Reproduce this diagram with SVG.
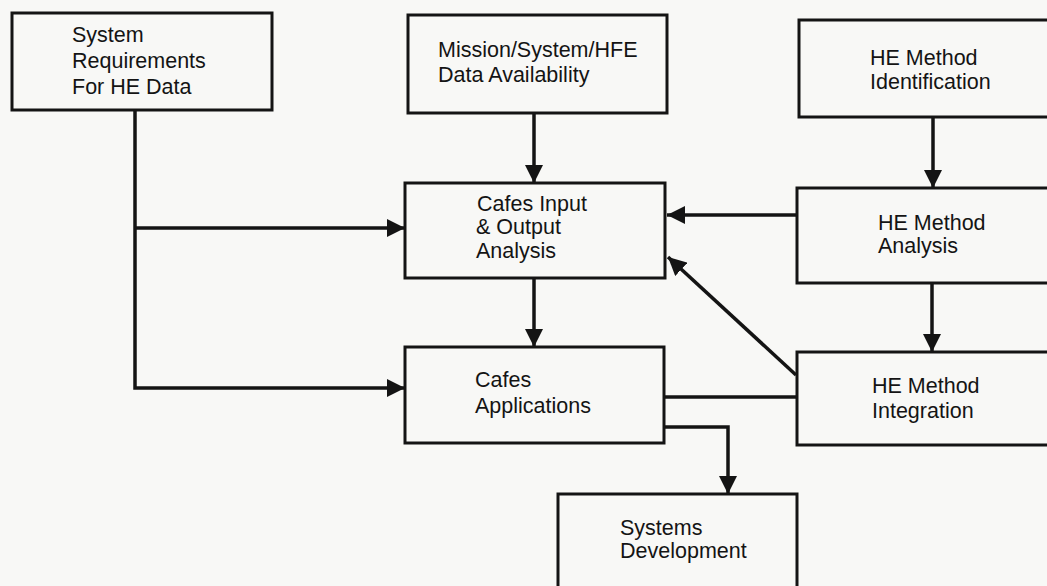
<svg xmlns="http://www.w3.org/2000/svg" width="1047" height="586" viewBox="0 0 1047 586">
  <style>
    .box { fill: #f8f8f6; stroke: #141414; stroke-width: 3; }
    .lbl { font-family: "Liberation Sans", Arial, sans-serif; font-size: 21.5px; fill: #141414; }
    .wire { fill: none; stroke: #141414; stroke-width: 3.5; }
  </style>
  <defs>
    <marker id="arrow" viewBox="0 0 10 10" refX="10" refY="5" markerWidth="5.2" markerHeight="5.2" markerUnits="strokeWidth" orient="auto">
      <path d="M0,0 L10,5 L0,10 Z" fill="#141414"/>
    </marker>
  </defs>
  <rect width="1047" height="586" fill="#f8f8f6"/>

  <g id="connectors">
    <!-- requirements feed both Cafes blocks -->
    <path class="wire" d="M135,110 V388 H405" marker-end="url(#arrow)"/>
    <path class="wire" d="M135,228 H405" marker-end="url(#arrow)"/>
    <!-- data availability into input/output analysis -->
    <path class="wire" d="M534,113 V183" marker-end="url(#arrow)"/>
    <!-- analysis into applications -->
    <path class="wire" d="M534,278 V347" marker-end="url(#arrow)"/>
    <!-- method chain on the right -->
    <path class="wire" d="M933,117 V188" marker-end="url(#arrow)"/>
    <path class="wire" d="M932,283 V352" marker-end="url(#arrow)"/>
    <path class="wire" d="M797,215 H667" marker-end="url(#arrow)"/>
    <path class="wire" d="M796,375 L668,257" marker-end="url(#arrow)"/>
    <!-- applications linked to integration -->
    <path class="wire" d="M664,397 H797"/>
    <!-- applications out to systems development -->
    <path class="wire" d="M664,427 H728 V494" marker-end="url(#arrow)"/>
  </g>

  <g id="sys-req">
    <rect class="box" x="12" y="13" width="260" height="97"/>
    <text class="lbl" x="72" y="42">System</text>
    <text class="lbl" x="72" y="68">Requirements</text>
    <text class="lbl" x="72" y="94">For HE Data</text>
  </g>

  <g id="data-avail">
    <rect class="box" x="408" y="15" width="259" height="98"/>
    <text class="lbl" x="438" y="57">Mission/System/HFE</text>
    <text class="lbl" x="438" y="82">Data Availability</text>
  </g>

  <g id="he-ident">
    <rect class="box" x="799" y="20" width="270" height="97"/>
    <text class="lbl" x="870" y="65">HE Method</text>
    <text class="lbl" x="870" y="89">Identification</text>
  </g>

  <g id="cafes-io">
    <rect class="box" x="405" y="183" width="260" height="95"/>
    <text class="lbl" x="477" y="211">Cafes Input</text>
    <text class="lbl" x="476" y="234">&amp; Output</text>
    <text class="lbl" x="476" y="258">Analysis</text>
  </g>

  <g id="he-analysis">
    <rect class="box" x="797" y="188" width="270" height="95"/>
    <text class="lbl" x="878" y="230">HE Method</text>
    <text class="lbl" x="878" y="253">Analysis</text>
  </g>

  <g id="cafes-apps">
    <rect class="box" x="405" y="347" width="259" height="96"/>
    <text class="lbl" x="475" y="387">Cafes</text>
    <text class="lbl" x="475" y="413">Applications</text>
  </g>

  <g id="he-integration">
    <rect class="box" x="797" y="352" width="270" height="93"/>
    <text class="lbl" x="872" y="393">HE Method</text>
    <text class="lbl" x="872" y="418">Integration</text>
  </g>

  <g id="sys-dev">
    <rect class="box" x="558" y="494" width="239" height="110"/>
    <text class="lbl" x="620" y="535">Systems</text>
    <text class="lbl" x="620" y="558">Development</text>
  </g>
</svg>
